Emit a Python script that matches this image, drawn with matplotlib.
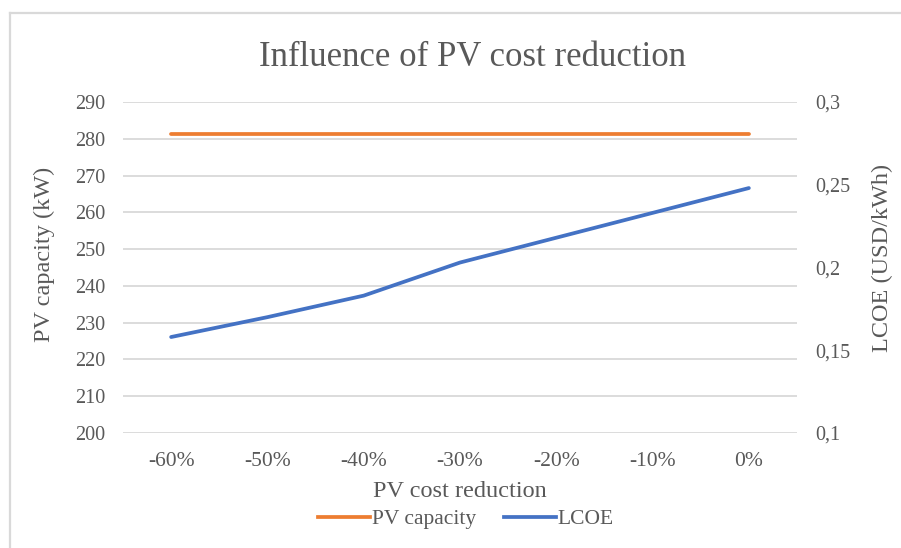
import matplotlib.pyplot as plt
from matplotlib.lines import Line2D
from matplotlib.ticker import FuncFormatter

# Datos
reduccion = ['-60%', '-50%', '-40%', '-30%', '-20%', '-10%', '0%']
pv_capacidad = [281.3, 281.3, 281.3, 281.3, 281.3, 281.3, 281.3]
lcoe = [0.158, 0.170, 0.183, 0.203, 0.218, 0.233, 0.248]

naranja = '#ed7d31'
azul = '#4472c4'
gris = '#595959'
rejilla = '#d9d9d9'

plt.rcParams['font.family'] = ['Liberation Serif', 'DejaVu Serif']

fig = plt.figure(figsize=(9.01, 5.48), dpi=100)
ax = fig.add_axes([123/901, 1 - 433/548, 674/901, 331/548])
ax2 = ax.twinx()

x = list(range(len(reduccion)))
ax.plot(x, pv_capacidad, color=naranja, lw=2.7, solid_capstyle='round', zorder=3)
ax2.plot(x, lcoe, color=azul, lw=2.7, solid_capstyle='round', zorder=3)

ax.set_xlim(-0.5, len(reduccion) - 0.5)
ax.set_ylim(200, 290)
ax.set_yticks(range(200, 291, 10))
ax2.set_ylim(0.1, 0.3)
ax2.set_yticks([0.1, 0.15, 0.2, 0.25, 0.3])
ax2.yaxis.set_major_formatter(FuncFormatter(lambda v, p: ('%g' % round(v, 2)).replace('.', ',')))

ax.set_xticks(x)
ax.set_xticklabels(reduccion)
ax.grid(axis='y', color=rejilla, lw=1.3)
ax.set_axisbelow(True)

for a in (ax, ax2):
    for s in a.spines.values():
        s.set_visible(False)
    a.tick_params(length=0, colors=gris, labelsize=14.5)
ax.tick_params(axis='x', labelsize=15.5, pad=14)
ax.tick_params(axis='y', pad=13)
ax2.tick_params(axis='y', pad=13)

ax.set_xlabel('PV cost reduction', color=gris, fontsize=17.5, labelpad=7)
ax.set_ylabel('PV capacity (kW)', color=gris, fontsize=17.5)
ax2.set_ylabel('LCOE (USD/kWh)', color=gris, fontsize=17.5)
ax.yaxis.set_label_coords(-0.101, 0.54)
ax2.yaxis.set_label_coords(1.111, 0.53)

fig.text(472/901, 1 - 58/548, 'Influence of PV cost reduction', color=gris,
         fontsize=25, ha='center', va='center')

handles = [Line2D([], [], color=naranja, lw=2.7),
           Line2D([], [], color=azul, lw=2.7)]
fig.legend(handles, ['PV capacity', 'LCOE'], loc='center', ncol=2,
           bbox_to_anchor=(466/901, 1 - 519/548), frameon=False,
           fontsize=15.5, labelcolor=gris, handlelength=2.4,
           handletextpad=0.1, columnspacing=1.3)

# Borde del área del gráfico
fig.add_artist(Line2D([10/901, 1], [1 - 12.5/548, 1 - 12.5/548], color=rejilla, lw=1.6))
fig.add_artist(Line2D([10/901, 10/901], [0, 1 - 12.5/548], color=rejilla, lw=1.6))

fig.savefig('out.png', dpi=100)
